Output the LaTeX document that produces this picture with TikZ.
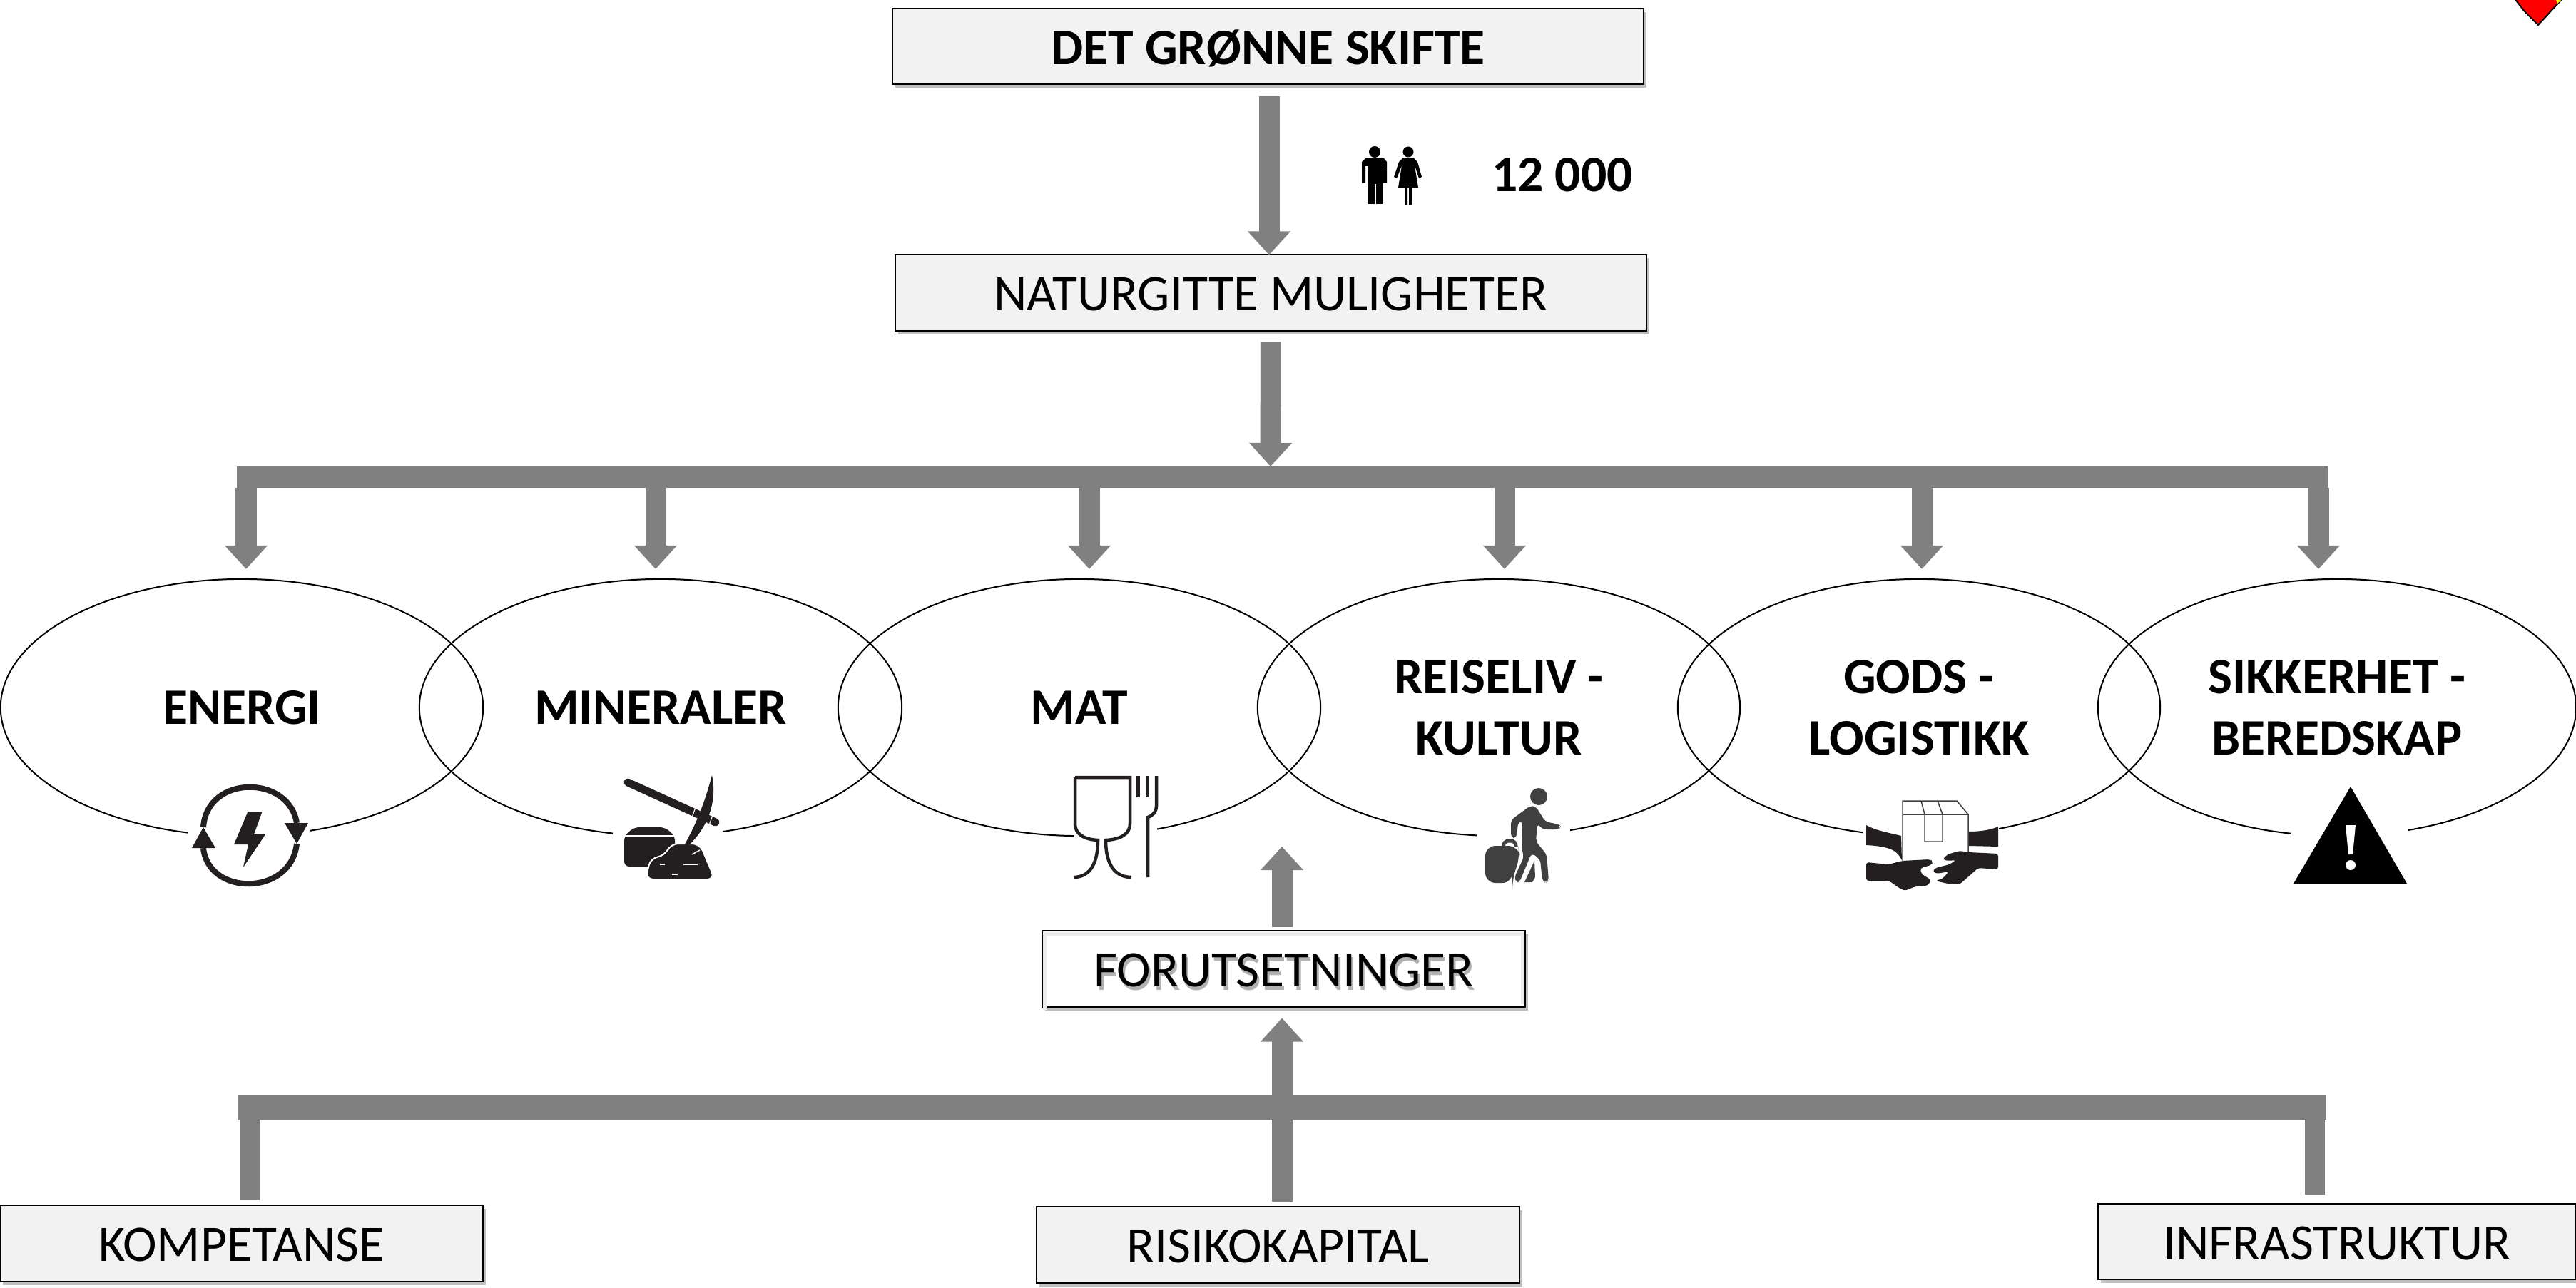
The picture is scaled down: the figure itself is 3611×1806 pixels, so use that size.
\documentclass[tikz,border=0pt]{standalone}
\usepackage{fontspec}
\setmainfont{Carlito}
\usetikzlibrary{arrows.meta,shapes.geometric,shadows}
\definecolor{boxgray}{HTML}{F2F2F2}
\definecolor{flowgray}{HTML}{808080}
\definecolor{icongray}{HTML}{231F20}
\definecolor{figuregray}{HTML}{404040}
\newcommand{\softshadow}[1]{\makebox[0pt][l]{\kern0.8pt\raisebox{-1.5pt}{\color{black!30}#1}}#1}
\tikzset{
	labelfont/.style={font=\fontsize{20.4}{24.5}\selectfont, align=center},
	boldfont/.style={font=\fontsize{20.4}{24.5}\selectfont\bfseries},
	flowbox/.style={draw, rectangle, line width=0.02cm, inner sep=0, outer sep=0, minimum height=1.06cm, labelfont, text height=14.3pt, text depth=0pt, drop shadow={shadow xshift=0.04cm, shadow yshift=-0.05cm, opacity=0.5}},
	greybox/.style={flowbox, fill=boxgray},
	sector/.style={draw, ellipse, line width=0.02cm, inner sep=0, outer sep=0, minimum width=6.76cm, minimum height=3.6cm, labelfont, boldfont},
	bigarrow/.style={draw=flowgray, line width=0.29cm, -{Triangle[length=0.33cm, width=0.58cm]}, flowgray},
	busline/.style={draw=flowgray, line width=0.32cm},
	iconmask/.style={fill=white, draw=none, rectangle, inner sep=0, outer sep=0},
	iconline/.style={draw=icongray, line width=0.045cm, line cap=butt, fill=none}
}
\begin{document}
\begin{tikzpicture}[x=0.01cm, y=-0.01cm]
	\useasboundingbox (0,0) rectangle (3611,1806);

	% Top boxes
	\node[greybox, minimum width=10.53cm, boldfont] (skifte) at (1777.5,65) {DET GRØNNE SKIFTE};
	\node[greybox, minimum width=10.53cm] (muligheter) at (1781.5,410.5) {NATURGITTE MULIGHETER};
	\coordinate (skifteout) at (1779,118);
	\draw[bigarrow, shorten <=0.17cm] (skifteout) -- (skifteout |- muligheter.north);

	% Number of people
	\node[labelfont, boldfont, inner sep=0] (antall) at (2190,245) {12 000};
	\fill (1927,213) circle [radius=8];
	\fill (1914,222) -- (1940,222) -- (1944,227) -- (1944,257) -- (1939,257) -- (1939,233) -- (1938,233) -- (1938,286) -- (1929,286) -- (1929,258) -- (1927,258) -- (1927,286) -- (1918,286) -- (1918,233) -- (1914,233) -- (1914,257) -- (1909,257) -- (1909,227) -- cycle;
	\fill (1974,213) circle [radius=7.5];
	\fill (1966,222) -- (1982,222) -- (1987,227) -- (1993,248) -- (1989,250) -- (1983,232) -- (1988,263) -- (1979,263) -- (1979,287) -- (1975,287) -- (1975,263) -- (1973,263) -- (1973,287) -- (1969,287) -- (1969,263) -- (1960,263) -- (1965,232) -- (1958,250) -- (1954,248) -- (1961,227) -- cycle;

	% Top bus
	\coordinate (topbusleft) at (332,669);
	\coordinate (topbusright) at (3263,669);
	\coordinate (topbusin) at (1781,654);
	\draw[bigarrow, shorten <=0.16cm] (muligheter.south) -- (topbusin);
	\draw[busline, line width=0.3cm] (topbusleft) -- (topbusright);

	% Sectors
	\node[sector] (energi) at (339,992) {ENERGI};
	\node[sector] (mineraler) at (926,992) {MINERALER};
	\node[sector] (mat) at (1513,992) {MAT};
	\node[sector] (reiseliv) at (2101,992) {REISELIV -\\KULTUR};
	\node[sector] (gods) at (2690,992) {GODS -\\LOGISTIKK};
	\node[sector, minimum width=6.70cm] (sikkerhet) at (3276,992) {SIKKERHET -\\BEREDSKAP};
	\foreach \el/\xx in {energi/345, mineraler/919, mat/1527, reiseliv/2109, gods/2694, sikkerhet/3250} {
		\coordinate (tap\el) at (\xx,684);
		\draw[bigarrow, shorten >=0.14cm] (tap\el) -- (tap\el |- \el.north);
	}

	% Masks under the icons
	\node[iconmask, minimum width=1.70cm, minimum height=1.6cm] (energimask) at (349,1180) {};
	\node[iconmask, minimum width=1.55cm, minimum height=1.6cm] (mineralmask) at (936.5,1180) {};
	\node[iconmask, minimum width=1.17cm, minimum height=1.6cm] (matmask) at (1563.5,1180) {};
	\node[iconmask, minimum width=1.31cm, minimum height=1.6cm] (reisemask) at (2135.5,1180) {};
	\node[iconmask, minimum width=1.90cm, minimum height=1.6cm] (godsmask) at (2707,1180) {};
	\node[iconmask, minimum width=1.64cm, minimum height=1.6cm] (varselmask) at (3294,1180) {};

	% Energy icon
	\draw[icongray, line width=0.08cm] (285,1160) .. controls (290,1086) and (405,1086) .. (416,1154);
	\draw[icongray, line width=0.08cm] (285,1189) .. controls (292,1257) and (408,1257) .. (416,1183);
	\fill[icongray] (399,1154) -- (432,1154) -- (416,1183) -- cycle;
	\fill[icongray] (269,1189) -- (302,1189) -- (285,1160) -- cycle;
	\fill[icongray] (347.5,1138) -- (367.6,1138) -- (356,1170) -- (372,1170) -- (341,1216) -- (348,1184) -- (328,1184) -- cycle;

	% Mineral icon
	\fill[icongray, rounded corners=2] (889,1160) -- (932,1160) -- (946,1172) -- (946,1215) -- (875,1215) -- (875,1172) -- cycle;
	\draw[white, line width=0.02cm] (875,1172) -- (946,1172);
	\fill[icongray, draw=white, line width=0.02cm, rounded corners=3] (905,1233) -- (1002,1233) -- (981,1183) -- (940,1183) -- (932,1200) -- (912,1203) -- cycle;
	\draw[white, line width=0.015cm] (970,1198) -- (981,1192) (925,1212) -- (932,1212) (958,1212) -- (978,1212) (942,1226) -- (950,1226);
	\fill[icongray] (998,1087) .. controls (1004,1115) and (1000,1160) .. (952,1197) .. controls (975,1160) and (988,1125) .. (998,1087) -- cycle;
	\draw[icongray, line width=0.11cm, line cap=round] (880,1097) -- (1003,1153);
	\draw[white, line width=0.012cm] (975,1132) -- (970,1146) (999,1143) -- (994,1157);

	% Food icon
	\draw[iconline] (1507,1090) -- (1584,1090) -- (1584,1155) .. controls (1584,1170) and (1570,1177) .. (1550,1178) .. controls (1550,1215) and (1565,1230) .. (1586,1230);
	\draw[iconline] (1507,1090) -- (1507,1155) .. controls (1507,1170) and (1520,1177) .. (1539,1178) .. controls (1539,1215) and (1525,1230) .. (1505,1230);
	\draw[iconline] (1621,1088) -- (1621,1130) .. controls (1621,1138) and (1616,1144) .. (1609,1146) -- (1609,1230);
	\draw[iconline] (1608.5,1088) -- (1608.5,1118) (1595.5,1088) -- (1595.5,1118);

	% Travel icon
	\fill[figuregray] (2157,1117) ellipse [x radius=12, y radius=12];
	\fill[figuregray, rounded corners=1.5] (2145,1130) -- (2153,1131) -- (2166,1152) -- (2185,1156) -- (2188,1159) -- (2185,1163) -- (2163,1163) -- (2155,1155) -- (2153,1180) -- (2168,1198) -- (2171,1235) -- (2167,1238) -- (2162,1235) -- (2159,1205) -- (2147,1196) -- (2130,1237) -- (2125,1237) -- (2123,1230) -- (2136,1202) -- (2133,1188) -- (2134,1151) -- (2128,1153) -- (2126,1175) -- (2118,1175) -- (2118,1150) -- cycle;
	\fill[figuregray] (2151,1207) -- (2137,1237) -- (2148,1237) -- (2152,1230) -- cycle;
	\fill[figuregray, rounded corners=4] (2082,1186) -- (2128,1186) -- (2131,1200) -- (2120,1233) -- (2120,1238) -- (2082,1238) -- cycle;
	\draw[figuregray, line width=0.05cm, rounded corners=2] (2107.5,1187) -- (2107.5,1179) -- (2125,1179) -- (2125,1187);

	% Goods icon
	\draw[figuregray, line width=0.015cm] (2667,1207) -- (2667,1123) -- (2743,1123) -- (2759,1142) -- (2759,1195) (2667,1142) -- (2759,1142) (2693,1123) -- (2698,1142) -- (2698,1180) -- (2723,1180) -- (2723,1142) -- (2716,1123);
	\fill[icongray] (2616,1157) .. controls (2630,1165) and (2650,1168) .. (2665,1172) -- (2666,1206) .. controls (2660,1195) and (2655,1187) .. (2616,1185) -- cycle;
	\fill[icongray] (2801,1159) .. controls (2790,1164) and (2775,1166) .. (2760,1166) -- (2760,1186) -- (2801,1187) -- cycle;
	\fill[icongray, rounded corners=1] (2616,1209) -- (2647,1212) -- (2667,1207) -- (2705,1205) -- (2710,1208) -- (2707,1213) -- (2692,1217) -- (2693,1225) -- (2707,1234) -- (2702,1242) -- (2685,1243) -- (2670,1249) -- (2662,1245) -- (2648,1235) -- (2616,1235) -- cycle;
	\fill[icongray, rounded corners=1] (2801,1197) -- (2760,1195) -- (2747,1193) -- (2730,1198) -- (2723,1205) -- (2730,1207) -- (2742,1206) -- (2733,1212) -- (2713,1217) -- (2709,1222) -- (2715,1225) -- (2732,1222) -- (2723,1232) -- (2713,1235) -- (2730,1239) -- (2747,1240) -- (2773,1217) -- (2801,1219) -- cycle;

	% Warning icon
	\fill (3295,1103) -- (3374,1239) -- (3215,1239) -- cycle;
	\fill[white] (3288,1157) -- (3302,1157) -- (3298,1198) -- (3292,1198) -- cycle;
	\fill[white] (3295,1213) ellipse [x radius=7, y radius=7];

	% Heart in the corner
	\begin{scope}
		\clip (3400,0) rectangle (3611,100);
		\draw[fill=red, line width=0.02cm] (3525,-2) -- (3538,15) -- (3558,35) -- (3592,-2) -- cycle;
		\fill[yellow] (3583,0) -- (3590,0) -- (3585,5) -- cycle;
	\end{scope}

	% Prerequisites
	\node[flowbox, fill=white, minimum width=6.77cm] (forutsetninger) at (1799.5,1358.5) {\softshadow{FORUTSETNINGER}};
	\draw[black!8, line width=0.05cm] ([xshift=0.04cm, yshift=-0.04cm]forutsetninger.south west) -- ([xshift=0.04cm, yshift=-0.04cm]forutsetninger.north west) -- ([xshift=-0.04cm, yshift=-0.04cm]forutsetninger.north east) -- ([xshift=-0.04cm, yshift=0.04cm]forutsetninger.south east);
	\coordinate (matin) at (1797,1187);
	\coordinate (forutout) at (1797,1305);
	\draw[bigarrow, shorten <=0.05cm] (forutout) -- (matin);

	% Bottom boxes
	\node[greybox, minimum width=6.77cm] (kompetanse) at (338.5,1743.5) {KOMPETANSE};
	\node[greybox, minimum width=6.77cm] (risikokapital) at (1791.5,1745.5) {RISIKOKAPITAL};
	\node[greybox, minimum width=6.70cm] (infrastruktur) at (3276,1741) {INFRASTRUKTUR};

	% Bottom bus
	\coordinate (lowbusleft) at (334,1553);
	\coordinate (lowbusright) at (3261,1553);
	\coordinate (kompin) at (350,1553);
	\coordinate (infrain) at (3245,1553);
	\coordinate (risikout) at (1797,1692);
	\draw[busline, line width=0.34cm] (lowbusleft) -- (lowbusright);
	\draw[busline, line width=0.28cm, shorten >=0.07cm] (kompin) -- (kompin |- kompetanse.north);
	\draw[busline, line width=0.28cm, shorten >=0.13cm] (infrain) -- (infrain |- infrastruktur.north);
	\draw[bigarrow, shorten <=0.07cm, shorten >=0.16cm] (risikout) -- (risikout |- forutsetninger.south);
\end{tikzpicture}
\end{document}
